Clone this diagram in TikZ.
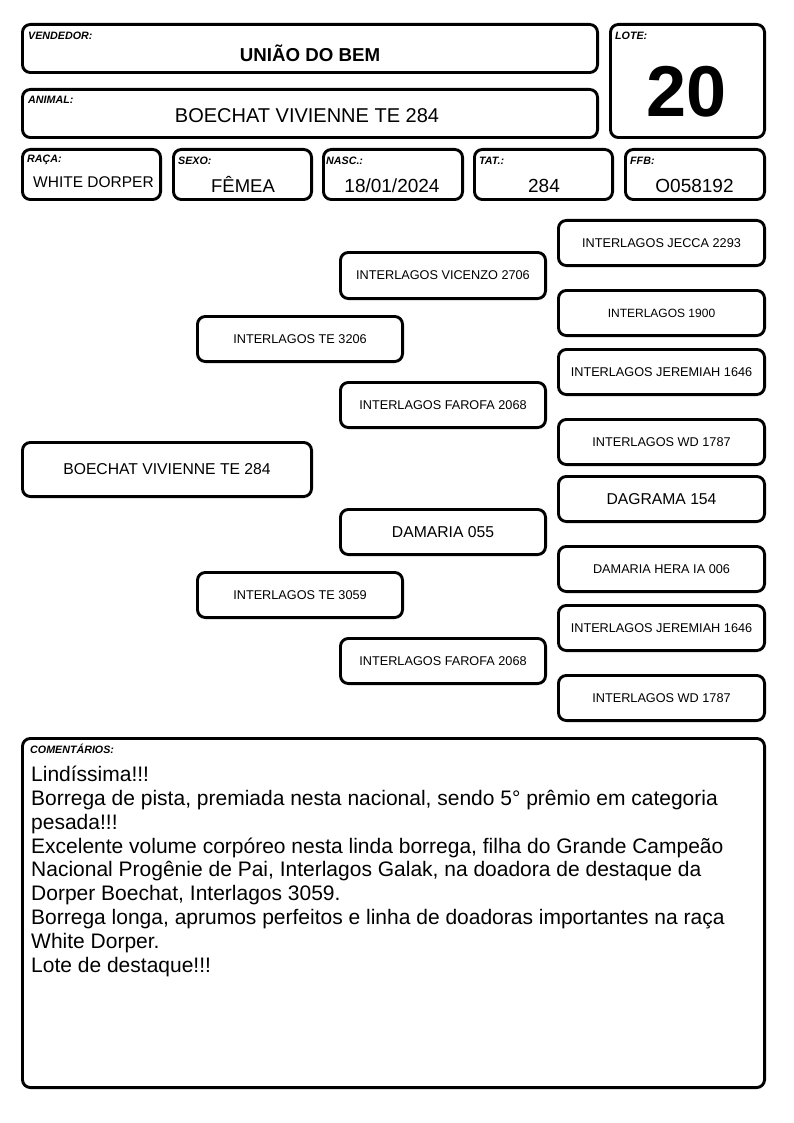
\documentclass[tikz,border=0pt]{standalone}
\usepackage{fontspec}
\setmainfont{Liberation Sans}
\newcommand\bx[6]{\node[boxst, minimum width={((#3)-(#2)-2.9)*1pt}, minimum height={((#5)-(#4)-2.9)*1pt}] (#1) at ({((#2)+(#3))/2},{((#4)+(#5))/2}) {#6};}
\tikzset{
  boxst/.style={draw=black, line width=2.9pt, rounded corners=8pt, inner sep=0pt, fill=white},
  lbl/.style={anchor=west, inner sep=0pt, font=\fontsize{10.7}{12}\selectfont\bfseries\itshape},
  val/.style={inner sep=0pt, font=\fontsize{19}{22}\selectfont},
  ped/.style={font=\fontsize{12.7}{15}\selectfont},
  pedbig/.style={font=\fontsize{15.7}{18}\selectfont},
}
\begin{document}
\begin{tikzpicture}[x=1pt,y=-1pt]
\useasboundingbox[fill=white] (0,0) rectangle (794,1123);
% header boxes
\bx{v}{21}{599}{23}{74}{}
\bx{a}{21}{599}{88}{139}{}
\bx{lote}{609}{766}{23}{139}{}
\bx{raca}{21}{162}{148}{201}{}
\bx{sexo}{172}{313}{148}{201}{}
\bx{nasc}{322}{464}{148}{201}{}
\bx{tat}{473}{614}{148}{201}{}
\bx{ffb}{624}{766}{148}{201}{}
% labels
\node[lbl] (lv) at (28,35.5) {VENDEDOR:};
\node[lbl] (la) at (28,99.5) {ANIMAL:};
\node[lbl] (ll) at (615,35.5) {LOTE:};
\node[lbl] (lr) at (27,159.5) {RAÇA:};
\node[lbl] (ls) at (178,160.5) {SEXO:};
\node[lbl] (ln) at (326,160.5) {NASC.:};
\node[lbl] (lt) at (479,160.5) {TAT.:};
\node[lbl] (lf) at (630,160.5) {FFB:};
% values
\node[inner sep=0pt, font=\fontsize{18.7}{22}\selectfont\bfseries] (vv) at (310,53) {UNIÃO DO BEM};
\node[inner sep=0pt, font=\fontsize{20}{24}\selectfont] (va) at (307,116) {BOECHAT VIVIENNE TE 284};
\node[inner sep=0pt, font=\fontsize{72}{80}\selectfont\bfseries] (vl) at (686.5,92) {20};
\node[inner sep=0pt, font=\fontsize{15.5}{18}\selectfont] (vr) at (93.5,182) {WHITE DORPER};
\node[inner sep=0pt, font=\fontsize{18.5}{22}\selectfont, anchor=base] (vs) at (243,193) {FÊMEA};
\node[val, anchor=base] (vn) at (392,193) {18/01/2024};
\node[val, anchor=base] (vt) at (544,193) {284};
\node[val, anchor=base] (vf) at (694.5,193) {O058192};
% pedigree
\bx{p0}{21}{313}{441}{498}{}
\node[pedbig] (p0t) at (p0) {BOECHAT VIVIENNE TE 284};
\bx{p1}{196}{404}{315}{363}{}
\node[ped] (p1t) at (p1) {INTERLAGOS TE 3206};
\bx{p2}{196}{404}{571}{619}{}
\node[ped] (p2t) at (p2) {INTERLAGOS TE 3059};
\bx{p11}{339}{547}{251}{300}{}
\node[ped] (p11t) at (p11) {INTERLAGOS VICENZO 2706};
\bx{p12}{339}{547}{381}{429}{}
\node[ped] (p12t) at (p12) {INTERLAGOS FAROFA 2068};
\bx{p21}{339}{547}{508}{556}{}
\node[pedbig] (p21t) at (p21) {DAMARIA 055};
\bx{p22}{339}{547}{637}{685}{}
\node[ped] (p22t) at (p22) {INTERLAGOS FAROFA 2068};
\bx{g1}{557}{766}{219}{267}{}
\node[ped] (g1t) at (g1) {INTERLAGOS JECCA 2293};
\bx{g2}{557}{766}{289}{337}{}
\node[font=\fontsize{12}{14}\selectfont] (g2t) at (g2) {INTERLAGOS 1900};
\bx{g3}{557}{766}{348}{396}{}
\node[ped] (g3t) at (g3) {INTERLAGOS JEREMIAH 1646};
\bx{g4}{557}{766}{418}{466}{}
\node[ped] (g4t) at (g4) {INTERLAGOS WD 1787};
\bx{g5}{557}{766}{475}{523}{}
\node[pedbig] (g5t) at (g5) {DAGRAMA 154};
\bx{g6}{557}{766}{545}{593}{}
\node[ped] (g6t) at (g6) {DAMARIA HERA IA 006};
\bx{g7}{557}{766}{604}{652}{}
\node[ped] (g7t) at (g7) {INTERLAGOS JEREMIAH 1646};
\bx{g8}{557}{766}{674}{722}{}
\node[ped] (g8t) at (g8) {INTERLAGOS WD 1787};
% comments
\bx{com}{21}{766}{737}{1089}{}
\node[lbl] (lc) at (30,749) {COMENTÁRIOS:};
\node[anchor=north west, inner sep=0pt, align=left, font=\fontsize{21}{23.8}\selectfont] (ct) at (31,766) {Lindíssima!!!\\
Borrega de pista, premiada nesta nacional, sendo 5° prêmio em categoria\\
pesada!!!\\
Excelente volume corpóreo nesta linda borrega, filha do Grande Campeão\\
Nacional Progênie de Pai, Interlagos Galak, na doadora de destaque da\\
Dorper Boechat, Interlagos 3059.\\
Borrega longa, aprumos perfeitos e linha de doadoras importantes na raça\\
White Dorper.\\
Lote de destaque!!!};
\end{tikzpicture}
\end{document}
